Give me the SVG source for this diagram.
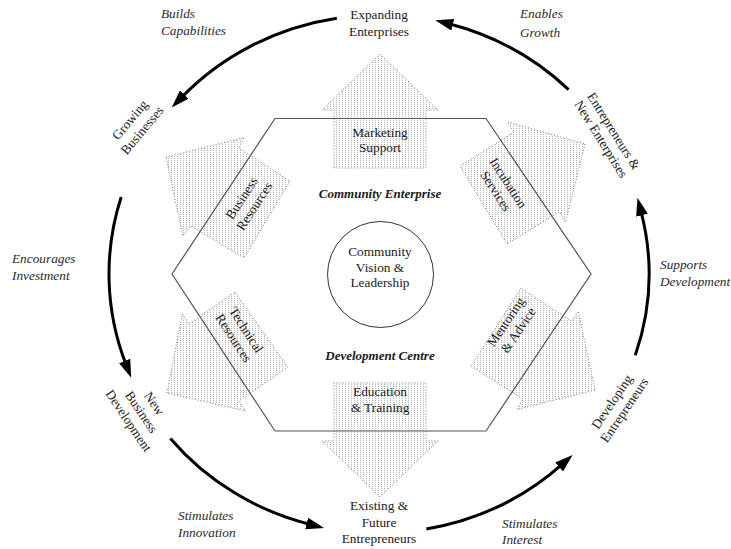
<svg xmlns="http://www.w3.org/2000/svg" width="731" height="549" viewBox="0 0 731 549">
<style>
  text { font-family: "Liberation Serif", "Times New Roman", serif; font-size: 13.3px; fill: #1a1a1a; }
  .c { text-anchor: middle; }
  .it { font-family: "Liberation Serif", "DejaVu Serif", serif; font-style: italic; fill: #2a2a2a; }
  .bi { font-style: italic; font-weight: bold; text-anchor: middle; font-size: 13px; }
  .blk { fill: url(#dots); stroke: #777; stroke-width: 1; stroke-dasharray: 1 2; }
  .hex { fill: none; stroke: #555; stroke-width: 1.2; }
  .hub { fill: none; stroke: #333; stroke-width: 1; }
  .flow { fill: none; stroke: #000; stroke-width: 3; marker-end: url(#head); }
</style>
<defs>
  <pattern id="dots" width="3" height="2" patternUnits="userSpaceOnUse">
    <rect width="3" height="2" fill="#fff"/>
    <rect width="1" height="1" fill="#b4b4b4"/>
  </pattern>
  <marker id="head" viewBox="0 0 18 12" markerWidth="18" markerHeight="12" refX="4" refY="6" orient="auto" markerUnits="userSpaceOnUse">
    <path d="M0,0 L18,6 L0,12 Z" fill="#000"/>
  </marker>
</defs>

<g id="block-marketing">
  <polygon class="blk" points="380,54 438,110 426,110 426,168 334,168 334,110 322,110"/>
</g>
<g id="block-education">
  <polygon class="blk" points="380,497 322,441 334,441 334,383 426,383 426,441 438,441"/>
</g>
<g id="block-business">
  <polygon class="blk" points="166,157 244,137.5 239,148 290,181 244,258 191,226 182.8,235.9"/>
</g>
<g id="block-technical">
  <polygon class="blk" points="167,393 182.4,313.9 188.9,323.9 235,292 287.7,367 239,401.1 245.6,411.1"/>
</g>
<g id="block-incubation">
  <polygon class="blk" points="585,144 565.5,222.2 559.5,211.8 507,244 460,166 513.5,132.2 507.5,121.8"/>
</g>
<g id="block-mentoring">
  <polygon class="blk" points="595,390 516.8,409.5 523.1,399.3 471,366 521,288 571.9,321.3 578.2,311.1"/>
</g>

<g id="hexagon">
  <polygon class="hex" points="275,118.5 486,118.5 591,274 486,431 275,431 172,274"/>
  <text class="bi" x="380" y="198">Community Enterprise</text>
  <text class="bi" x="380" y="360">Development Centre</text>
</g>

<g id="hub">
  <circle class="hub" cx="380.5" cy="274.5" r="53"/>
  <text class="c" x="380" y="256">Community</text>
  <text class="c" x="380" y="271.5">Vision &amp;</text>
  <text class="c" x="380" y="287">Leadership</text>
</g>

<g id="label-marketing"><text class="c" x="380" y="137">Marketing<tspan x="380" y="152">Support</tspan></text></g>
<g id="label-education"><text class="c" x="380" y="396">Education<tspan x="380" y="412">&amp; Training</tspan></text></g>
<g id="label-business"><text class="c" transform="translate(248,202) rotate(-57)" x="0" y="-3">Business<tspan x="0" y="12">Resources</tspan></text></g>
<g id="label-incubation"><text class="c" transform="translate(502,187) rotate(57)" x="0" y="-3">Incubation<tspan x="0" y="12">Services</tspan></text></g>
<g id="label-technical"><text class="c" transform="translate(240,334) rotate(57)" x="0" y="-3">Technical<tspan x="0" y="12">Resources</tspan></text></g>
<g id="label-mentoring"><text class="c" transform="translate(512,326) rotate(-56)" x="0" y="-3">Mentoring<tspan x="0" y="12">&amp; Advice</tspan></text></g>

<g id="node-expanding"><text class="c" x="379" y="19">Expanding<tspan x="379" y="36">Enterprises</tspan></text></g>
<g id="node-growing"><text class="c" transform="translate(136,125) rotate(-50)" x="0" y="-3.5">Growing<tspan x="0" y="12.5">Businesses</tspan></text></g>
<g id="node-newbusiness"><text class="c" transform="translate(141.5,412) rotate(56)" x="0" y="-11">New<tspan x="0" y="4.5">Business</tspan><tspan x="0" y="20">Development</tspan></text></g>
<g id="node-existing"><text class="c" x="379" y="510">Existing &amp;<tspan x="379" y="527">Future</tspan><tspan x="379" y="543">Entrepreneurs</tspan></text></g>
<g id="node-developing"><text class="c" transform="translate(618,406) rotate(-56)" x="0" y="-3">Developing<tspan x="0" y="12">Entrepreneurs</tspan></text></g>
<g id="node-newent"><text class="c" transform="translate(607.5,135) rotate(58)" x="0" y="-3">Entrepreneurs &amp;<tspan x="0" y="12">New Enterprises</tspan></text></g>

<g id="connectors">
  <path class="flow" d="M336.8,18.2 A270 259 0 0 0 181.5,97.4"/>
  <path class="flow" d="M121.2,197 A270 259 0 0 0 126.1,364.7"/>
  <path class="flow" d="M170.4,438.4 A270 259 0 0 0 310.5,524.5"/>
  <path class="flow" d="M426.4,529 A270 259 0 0 0 562.1,464.3"/>
  <path class="flow" d="M635.3,355.3 A270 259 0 0 0 641,211.3"/>
  <path class="flow" d="M568.6,89.6 A270 259 0 0 0 448.9,23.8"/>
</g>

<g id="edge-labels">
  <text class="it" x="161" y="18">Builds<tspan x="161" y="35">Capabilities</tspan></text>
  <text class="it" x="520" y="18">Enables<tspan x="520" y="37">Growth</tspan></text>
  <text class="it" x="12" y="263">Encourages<tspan x="12" y="280">Investment</tspan></text>
  <text class="it" x="660" y="269">Supports<tspan x="660" y="286">Development</tspan></text>
  <text class="it" x="178" y="520">Stimulates<tspan x="178" y="537">Innovation</tspan></text>
  <text class="it" x="502" y="528">Stimulates<tspan x="502" y="544">Interest</tspan></text>
</g>
</svg>
